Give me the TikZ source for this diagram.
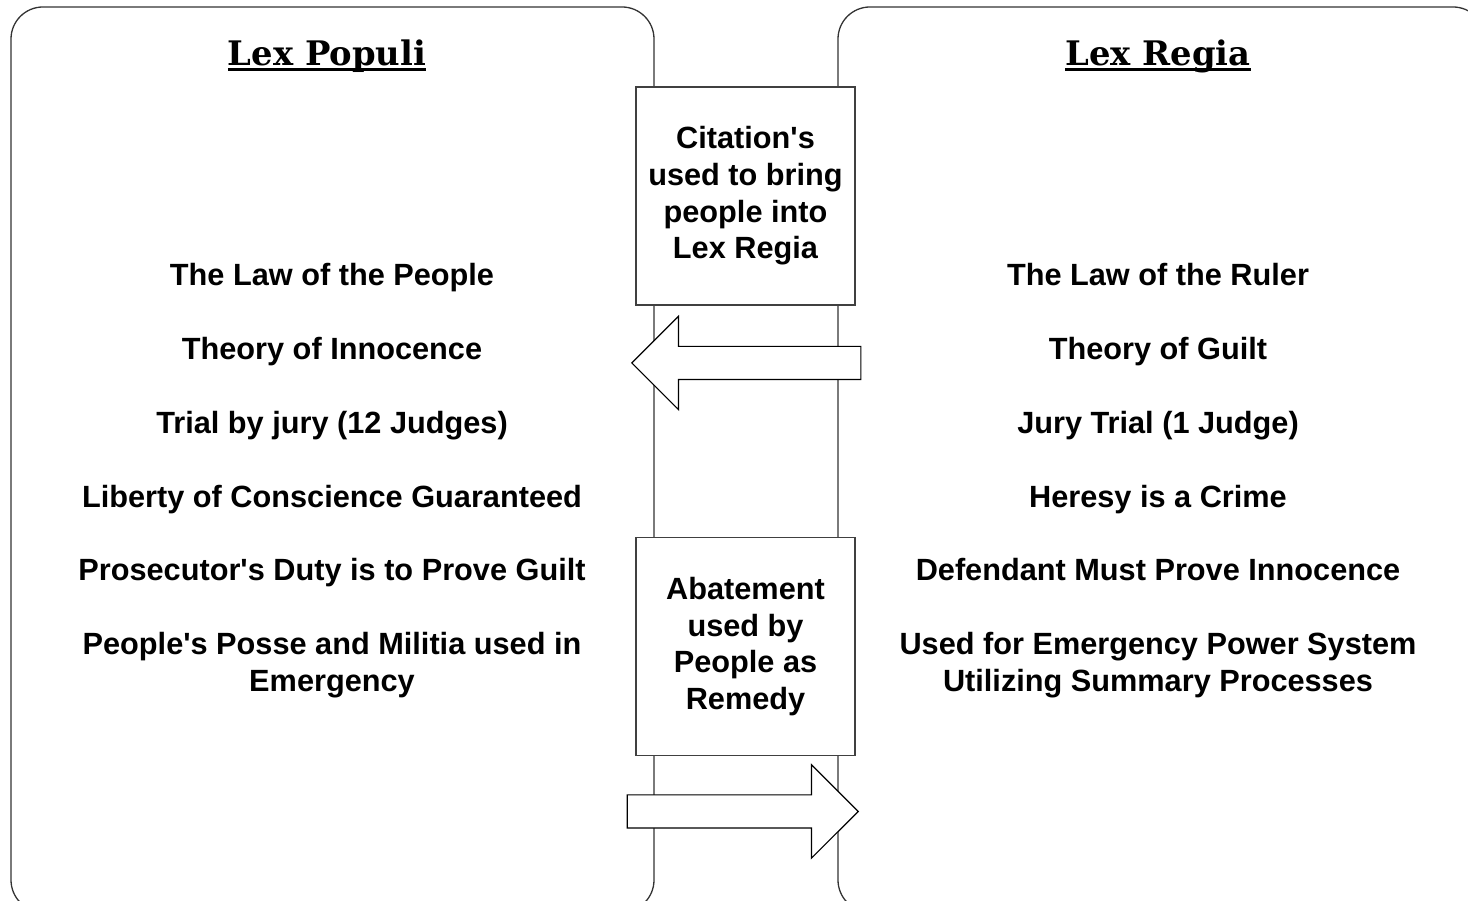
\documentclass[tikz,border=0pt]{standalone}
\usepackage{fontspec}
\setmainfont{Liberation Sans}
\newfontfamily\headfont{DejaVu Serif}
\newsavebox\headbox
\newcommand{\headline}[1]{\sbox\headbox{#1}\rlap{\rule[-4.6pt]{\wd\headbox}{2.6pt}}\usebox\headbox}
\usetikzlibrary{positioning,shapes.arrows}

\begin{document}
\begin{tikzpicture}[
        x=1pt, y=1pt,
        node distance=73.7pt,
        panel/.style={draw=black!80, line width=1.3pt, rounded corners=32pt},
        heading/.style={font=\headfont\bfseries\fontsize{33.8}{40}\selectfont, inner sep=0pt, anchor=base},
        lawtext/.style={font=\bfseries\fontsize{30.7}{37}\selectfont, align=center, inner sep=0pt, anchor=base},
        midbox/.style={rectangle, draw=black!75, fill=white, line width=1.3pt, minimum width=219pt, minimum height=218pt, align=center, font=\bfseries\fontsize{30.7}{36.7}\selectfont},
        blockarrow/.style={single arrow, draw=black, fill=white, line width=1.2pt, minimum height=229pt, minimum width=92pt, single arrow head extend=30pt, single arrow tip angle=90, inner xsep=0pt, inner ysep=16pt, anchor=tip}
    ]
        \useasboundingbox (0,0) rectangle (1468,901);

        % Panels
        \draw[panel] (11,894) rectangle (654,-11);
        \draw[panel] (838,894) rectangle (1485,-11);

        % Headings
        \node[heading] (populi) at (327,835) {\headline{Lex Populi}};
        \node[heading] (regia) at (1158,835) {\headline{Lex Regia}};

        % Lex Populi
        \node[lawtext] (lp1) at (332,615) {The Law of the People};
        \node[below=of lp1.base, lawtext] (lp2) {Theory of Innocence};
        \node[below=of lp2.base, lawtext] (lp3) {Trial by jury (12 Judges)};
        \node[below=of lp3.base, lawtext] (lp4) {Liberty of Conscience Guaranteed};
        \node[below=of lp4.base, lawtext] (lp5) {Prosecutor\textquotesingle s Duty is to Prove Guilt};
        \node[below=110.7pt of lp5.base, lawtext] (lp6) {People\textquotesingle s Posse and Militia used in\\Emergency};

        % Lex Regia
        \node[lawtext] (lr1) at (1158,615) {The Law of the Ruler};
        \node[below=of lr1.base, lawtext] (lr2) {Theory of Guilt};
        \node[below=of lr2.base, lawtext] (lr3) {Jury Trial (1 Judge)};
        \node[below=of lr3.base, lawtext] (lr4) {Heresy is a Crime};
        \node[below=of lr4.base, lawtext] (lr5) {Defendant Must Prove Innocence};
        \node[below=110.7pt of lr5.base, lawtext] (lr6) {Used for Emergency Power System\\Utilizing Summary Processes};

        % Middle
        \node[midbox] (citation) at (745.5,705) {Citation\textquotesingle s\\used to bring\\people into\\Lex Regia};
        \node[midbox] (abatement) at (745.5,254.5) {Abatement\\used by\\People as\\Remedy};

        % Arrows
        \node[blockarrow, shape border rotate=180] (citearrow) at (631,538) {};
        \node[blockarrow, minimum height=231pt] (abatearrow) at (859,89.5) {};
    \end{tikzpicture}
\end{document}
